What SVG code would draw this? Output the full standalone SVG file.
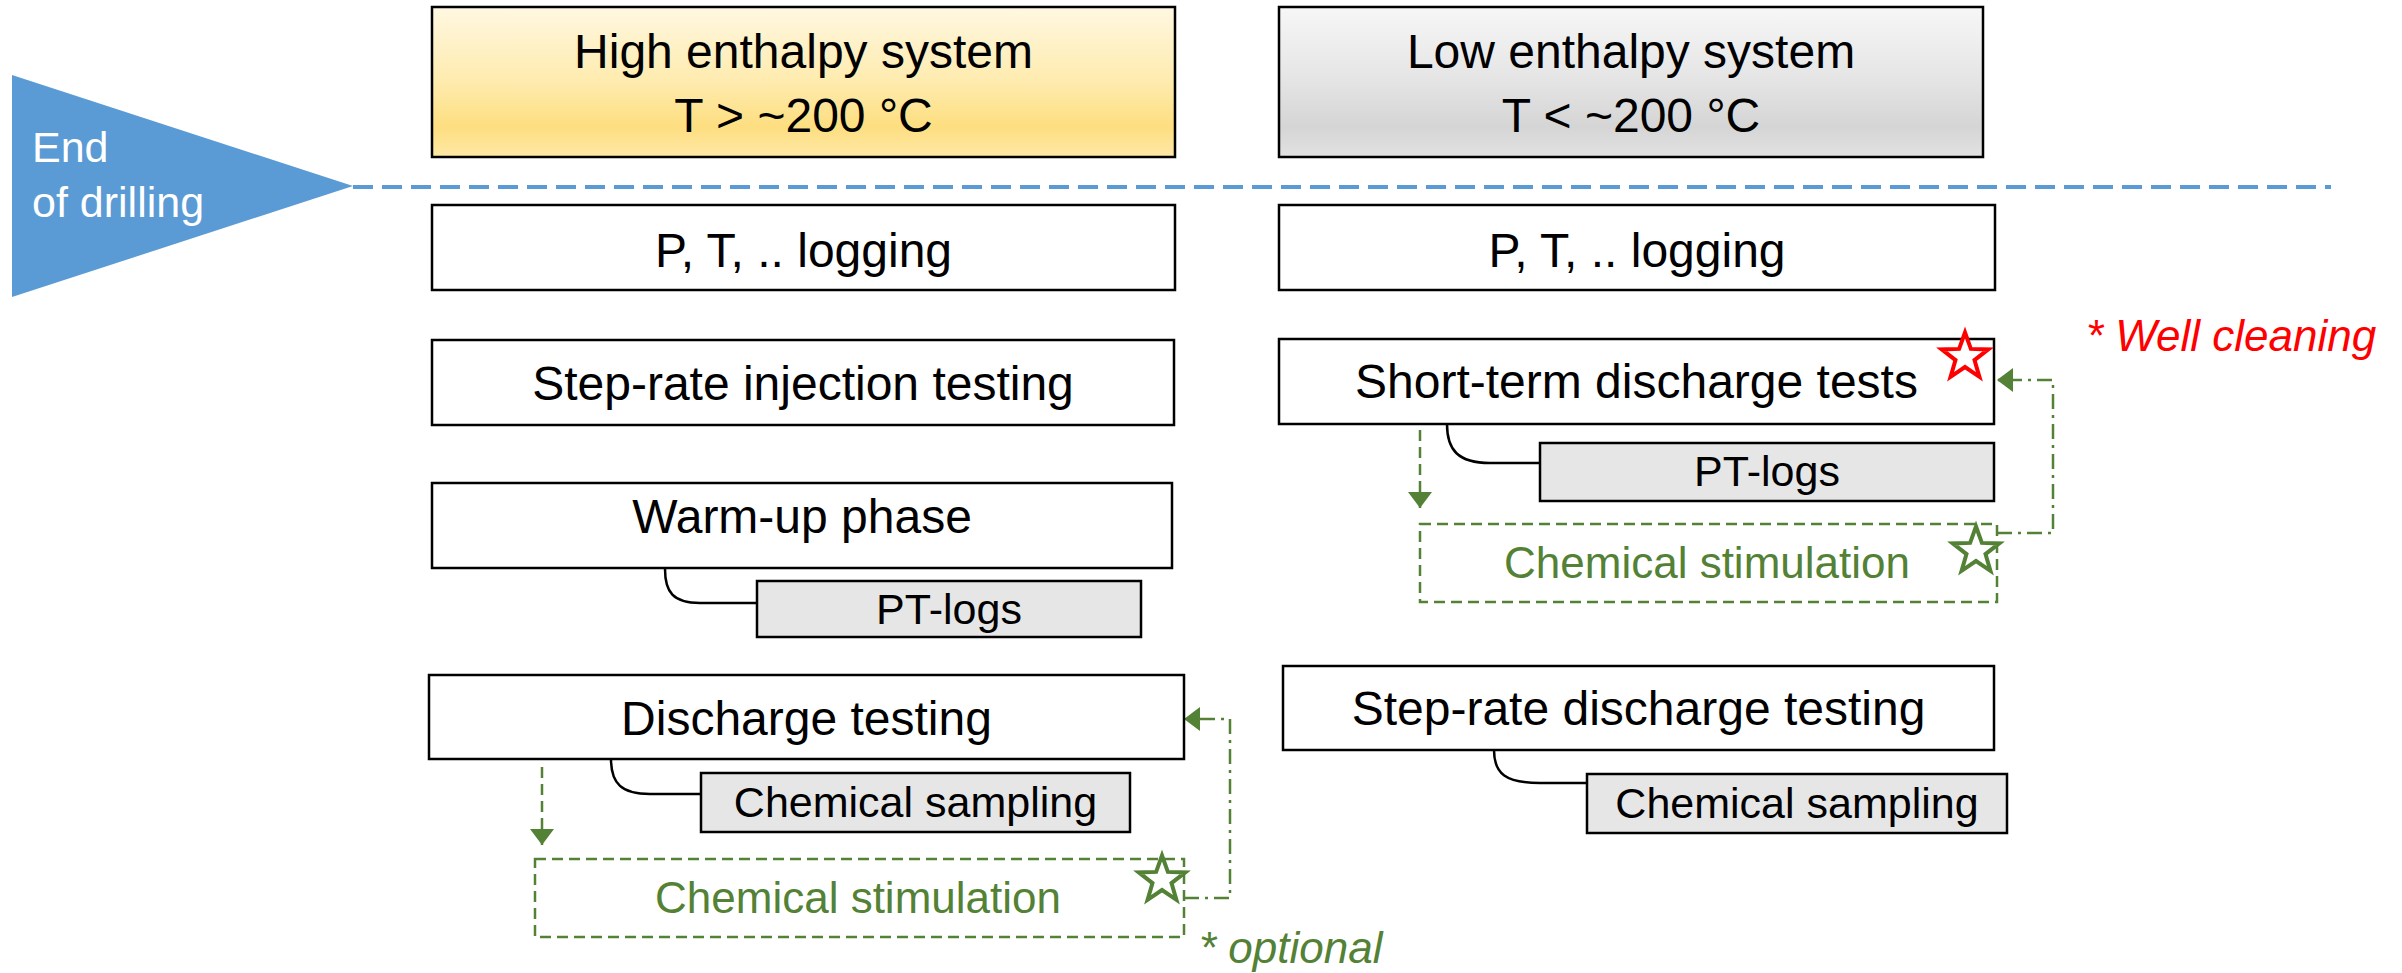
<svg xmlns="http://www.w3.org/2000/svg" width="2402" height="973" viewBox="0 0 2402 973">
<defs>
<linearGradient id="gGold" x1="0" y1="0" x2="0" y2="1">
<stop offset="0" stop-color="#FFF8E2"/>
<stop offset="0.5" stop-color="#FEEBAE"/>
<stop offset="0.8" stop-color="#FDDE80"/>
<stop offset="1" stop-color="#FEE8A6"/>
</linearGradient>
<linearGradient id="gGray" x1="0" y1="0" x2="0" y2="1">
<stop offset="0" stop-color="#F7F7F7"/>
<stop offset="0.5" stop-color="#E4E4E4"/>
<stop offset="0.8" stop-color="#D5D5D5"/>
<stop offset="1" stop-color="#E2E2E2"/>
</linearGradient>
<marker id="arrG" markerUnits="userSpaceOnUse" markerWidth="18" markerHeight="24" viewBox="0 0 16 24" refX="16" refY="12" orient="auto">
<path d="M0,0 L16,12 L0,24 Z" fill="#538135"/>
</marker>
<path id="star" d="M0,-24.5 L5.88,-8.09 L23.3,-7.57 L9.51,3.09 L14.4,19.82 L0,10 L-14.4,19.82 L-9.51,3.09 L-23.3,-7.57 L-5.88,-8.09 Z"/>
<style>
.box{fill:#FFFFFF;stroke:#000000;stroke-width:2.5}
.sub{fill:#E6E6E6;stroke:#000000;stroke-width:2.5}
.dbox{fill:none;stroke:#538135;stroke-width:2.5;stroke-dasharray:11 6}
.t{font-family:"Liberation Sans",Arial,sans-serif;font-size:48px;fill:#000000;text-anchor:middle}
.ts{font-family:"Liberation Sans",Arial,sans-serif;font-size:43px;fill:#000000;text-anchor:middle}
.tg{font-family:"Liberation Sans",Arial,sans-serif;font-size:44px;fill:#538135;text-anchor:middle}
.note{font-family:"Liberation Sans",Arial,sans-serif;font-size:44px;font-style:italic}
.link{fill:none;stroke:#000000;stroke-width:2.5}
.garr{fill:none;stroke:#538135;stroke-width:2.5;stroke-dasharray:11 6}
.gdd{fill:none;stroke:#538135;stroke-width:2.5;stroke-dasharray:15 6 3 6}
.star{fill:#FFFFFF;stroke-width:4;stroke-linejoin:miter}
</style>
</defs>
<rect width="2402" height="973" fill="#FFFFFF"/>

<g id="end-of-drilling">
<polygon points="12,75 353,186 12,297" fill="#5B9BD5"/>
<text x="32" y="162" font-family="Liberation Sans, Arial, sans-serif" font-size="43" fill="#FFFFFF">End</text>
<text x="32" y="217" font-family="Liberation Sans, Arial, sans-serif" font-size="43" fill="#FFFFFF">of drilling</text>
</g>

<g id="connectors">
<line x1="353" y1="187" x2="2331" y2="187" stroke="#5B9BD5" stroke-width="4" stroke-dasharray="20 9"/>
<path class="link" d="M665,569 C665,592 673,603 700,603 L757,603"/>
<path class="link" d="M1447,424 C1447,450 1458,463 1490,463 L1540,463"/>
<path class="link" d="M611,759 C611,784 622,794 650,794 L701,794"/>
<path class="link" d="M1494,750 C1494,774 1506,783 1540,783 L1587,783"/>
<path class="garr" d="M1420,430 L1420,508" marker-end="url(#arrG)"/>
<path class="garr" d="M542,767 L542,845" marker-end="url(#arrG)"/>
<path class="gdd" d="M1997,533 L2053,533 L2053,380 L1997,380" marker-end="url(#arrG)"/>
<path class="gdd" d="M1184,898 L1230,898 L1230,719 L1184,719" marker-end="url(#arrG)"/>
</g>

<g id="high-enthalpy">
<rect x="432" y="7" width="743" height="150" fill="url(#gGold)" stroke="#000000" stroke-width="2.5"/>
<text class="t" x="803.5" y="68">High enthalpy system</text>
<text class="t" x="803.5" y="132">T &gt; ~200 °C</text>
</g>

<g id="low-enthalpy">
<rect x="1279" y="7" width="704" height="150" fill="url(#gGray)" stroke="#000000" stroke-width="2.5"/>
<text class="t" x="1631" y="68">Low enthalpy system</text>
<text class="t" x="1631" y="132">T &lt; ~200 °C</text>
</g>

<g id="pt-logging-high">
<rect class="box" x="432" y="205" width="743" height="85"/>
<text class="t" x="803.5" y="267">P, T, .. logging</text>
</g>

<g id="pt-logging-low">
<rect class="box" x="1279" y="205" width="716" height="85"/>
<text class="t" x="1637" y="267">P, T, .. logging</text>
</g>

<g id="step-rate-injection">
<rect class="box" x="432" y="340" width="742" height="85"/>
<text class="t" x="803" y="400">Step-rate injection testing</text>
</g>

<g id="short-term-discharge">
<rect class="box" x="1279" y="339" width="715" height="85"/>
<text class="t" x="1636.5" y="398">Short-term discharge tests</text>
<use href="#star" class="star" transform="translate(1965,357)" stroke="#FF0000"/>
</g>

<g id="well-cleaning-note">
<text class="note" x="2086" y="351" fill="#FF0000">* Well cleaning</text>
</g>

<g id="pt-logs-low">
<rect class="sub" x="1540" y="443" width="454" height="58"/>
<text class="ts" x="1767" y="486">PT-logs</text>
</g>

<g id="chemical-stimulation-low">
<rect class="dbox" x="1420" y="524" width="577" height="78"/>
<text class="tg" x="1707" y="578">Chemical stimulation</text>
<use href="#star" class="star" transform="translate(1976,551)" stroke="#538135"/>
</g>

<g id="warm-up">
<rect class="box" x="432" y="483" width="740" height="85"/>
<text class="t" x="802" y="533">Warm-up phase</text>
</g>

<g id="pt-logs-high">
<rect class="sub" x="757" y="581" width="384" height="56"/>
<text class="ts" x="949" y="624">PT-logs</text>
</g>

<g id="discharge-testing">
<rect class="box" x="429" y="675" width="755" height="84"/>
<text class="t" x="806.5" y="735">Discharge testing</text>
</g>

<g id="chemical-sampling-high">
<rect class="sub" x="701" y="773" width="429" height="59"/>
<text class="ts" x="915.5" y="817">Chemical sampling</text>
</g>

<g id="chemical-stimulation-high">
<rect class="dbox" x="535" y="859" width="649" height="78"/>
<text class="tg" x="858" y="913">Chemical stimulation</text>
<use href="#star" class="star" transform="translate(1162,880)" stroke="#538135"/>
</g>

<g id="optional-note">
<text class="note" x="1199" y="963" fill="#538135">* optional</text>
</g>

<g id="step-rate-discharge">
<rect class="box" x="1283" y="666" width="711" height="84"/>
<text class="t" x="1638.5" y="725">Step-rate discharge testing</text>
</g>

<g id="chemical-sampling-low">
<rect class="sub" x="1587" y="774" width="420" height="59"/>
<text class="ts" x="1797" y="818">Chemical sampling</text>
</g>
</svg>
